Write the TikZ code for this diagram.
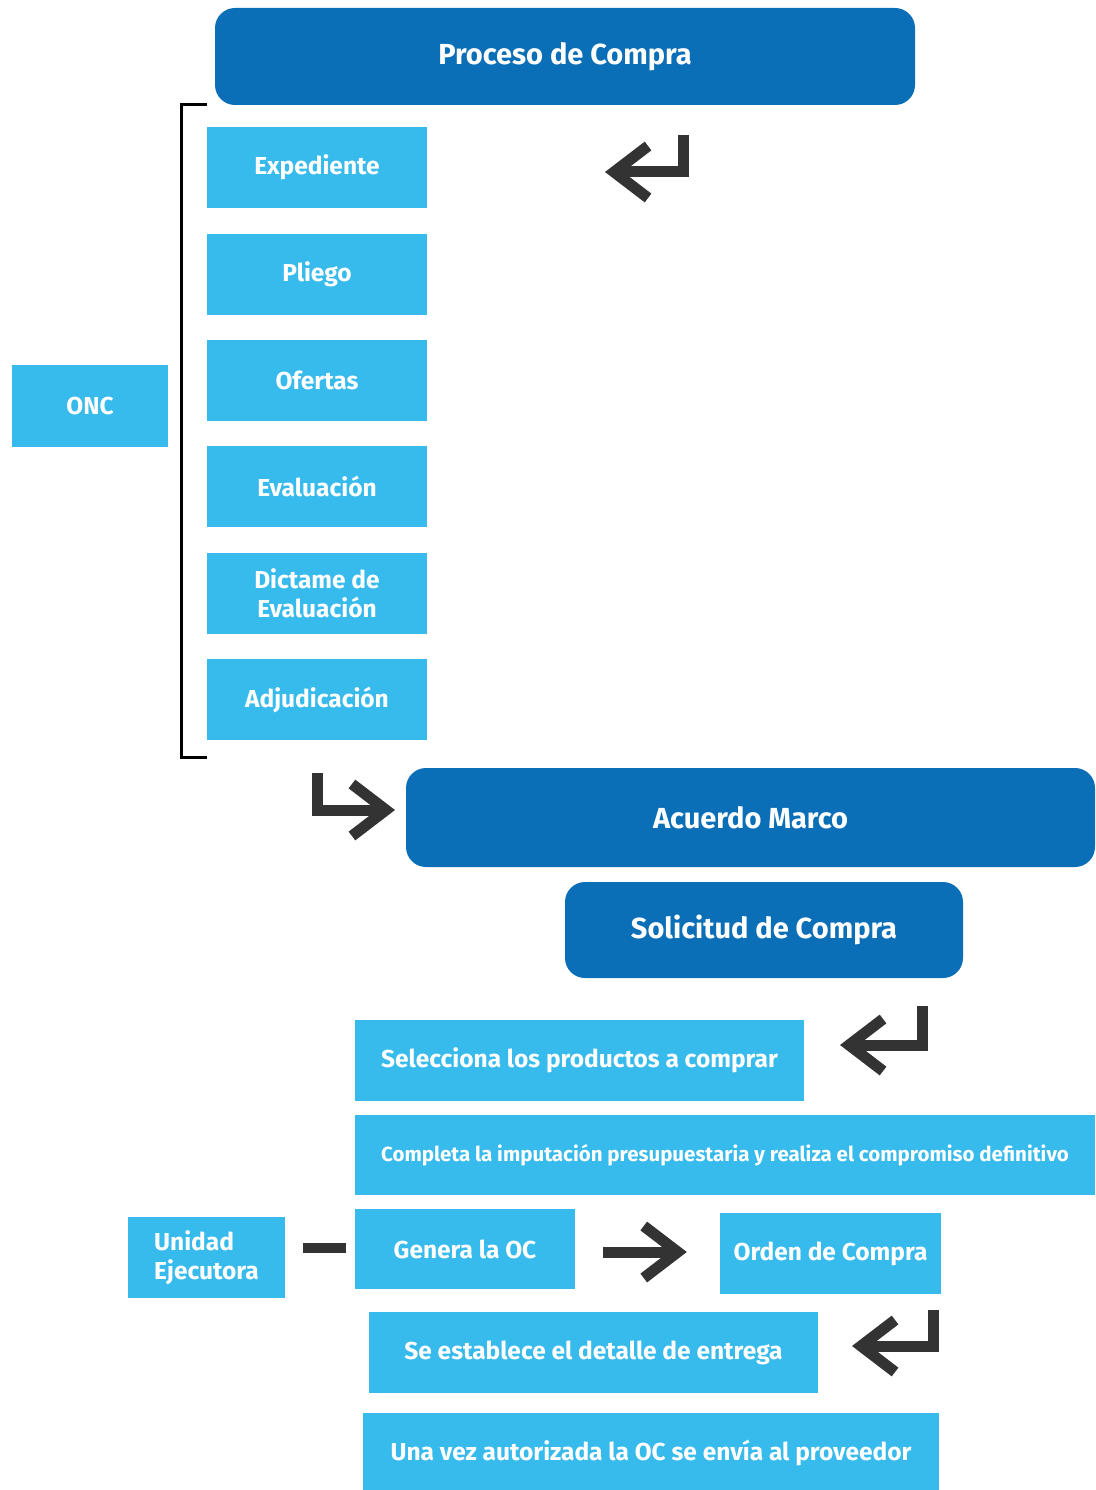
\documentclass[tikz,border=0pt]{standalone}
\usepackage{fontspec}
\setmainfont{Fira Sans}
\usetikzlibrary{arrows.meta}
\definecolor{darkblue}{HTML}{0A6FB7}
\definecolor{lightblue}{HTML}{37BAEC}
\definecolor{arrowgray}{HTML}{333333}

\begin{document}
\begin{tikzpicture}[x=1pt,y=-1pt]
\tikzstyle{header}=[fill=darkblue, rounded corners=20pt, text=white, inner sep=0pt, font=\fontsize{29}{33}\selectfont\bfseries]
\tikzstyle{stepbox}=[fill=lightblue, text=white, inner sep=0pt, align=center, font=\fontsize{24.5}{29}\selectfont\bfseries]
\tikzstyle{bigarrow}=[draw=arrowgray, line width=11pt, line join=miter, -{Straight Barb[length=34pt,width=52pt]}]
\useasboundingbox (0,0) rectangle (1095,1490);

\node[header, minimum width=700pt, minimum height=97pt] (proc) at (565,56.5) {Proceso de Compra};

\node[stepbox, minimum width=220pt, minimum height=81pt] (exp) at (317,167.5) {Expediente};
\node[stepbox, minimum width=220pt, minimum height=81pt] (pli) at (317,274) {Pliego};
\node[stepbox, minimum width=220pt, minimum height=81pt] (ofe) at (317,380) {Ofertas};
\node[stepbox, minimum width=220pt, minimum height=81pt] (eva) at (317,486.5) {Evaluación};
\node[stepbox, minimum width=220pt, minimum height=81pt] (dic) at (317,593) {Dictame de\\Evaluación};
\node[stepbox, minimum width=220pt, minimum height=81pt] (adj) at (317,699.5) {Adjudicación};
\node[stepbox, minimum width=156pt, minimum height=82pt] (onc) at (90,406) {ONC};

\node[header, minimum width=689pt, minimum height=99pt] (acu) at (750.5,817.5) {Acuerdo Marco};
\node[header, minimum width=398pt, minimum height=96pt] (sol) at (764,930) {Solicitud de Compra};

\node[stepbox, minimum width=449pt, minimum height=81pt] (sel) at (579.5,1060.5) {Selecciona los productos a comprar};
\node[stepbox, minimum width=740pt, minimum height=80pt, font=\fontsize{20.5}{24}\selectfont\bfseries] (com) at (725,1155) {Completa la imputación presupuestaria y realiza el compromiso definitivo};
\node[stepbox, minimum width=157pt, minimum height=81pt, align=left] (uni) at (206.5,1257.5) {Unidad\\Ejecutora};
\node[stepbox, minimum width=220pt, minimum height=80pt] (gen) at (465,1249) {Genera la OC};
\node[stepbox, minimum width=221pt, minimum height=81pt] (ord) at (830.5,1253.5) {Orden de Compra};
\node[stepbox, minimum width=449pt, minimum height=81pt] (est) at (593.5,1352.5) {Se establece el detalle de entrega};
\node[stepbox, minimum width=576pt, minimum height=79pt] (una) at (651,1452.5) {Una vez autorizada la OC se envía al proveedor};

% bracket
\coordinate (brtop) at (207,105);
\coordinate (brbot) at (207,757);
\draw[line width=3pt] (brtop) -- (181,105) -- (181,757) -- (brbot);

% arrows
\coordinate (r1s) at (683,135);
\coordinate (r1e) at (605,172);
\draw[bigarrow] (r1s) |- (r1e);
\coordinate (d1s) at (317,773);
\coordinate (d1e) at (395,810);
\draw[bigarrow] (d1s) |- (d1e);
\coordinate (r2s) at (922,1006);
\coordinate (r2e) at (840,1045);
\draw[bigarrow] (r2s) |- (r2e);
\coordinate (r3s) at (933,1310);
\coordinate (r3e) at (852,1346);
\draw[bigarrow] (r3s) |- (r3e);

\draw[draw=arrowgray, line width=10pt, shorten <=18pt, shorten >=9pt] ([yshift=9.5pt]uni.east) -- ([yshift=1pt]gen.west);
\draw[bigarrow, shorten <=28pt, shorten >=33pt] ([yshift=-3pt]gen.east) -- ([yshift=1.5pt]ord.west);
\end{tikzpicture}
\end{document}
